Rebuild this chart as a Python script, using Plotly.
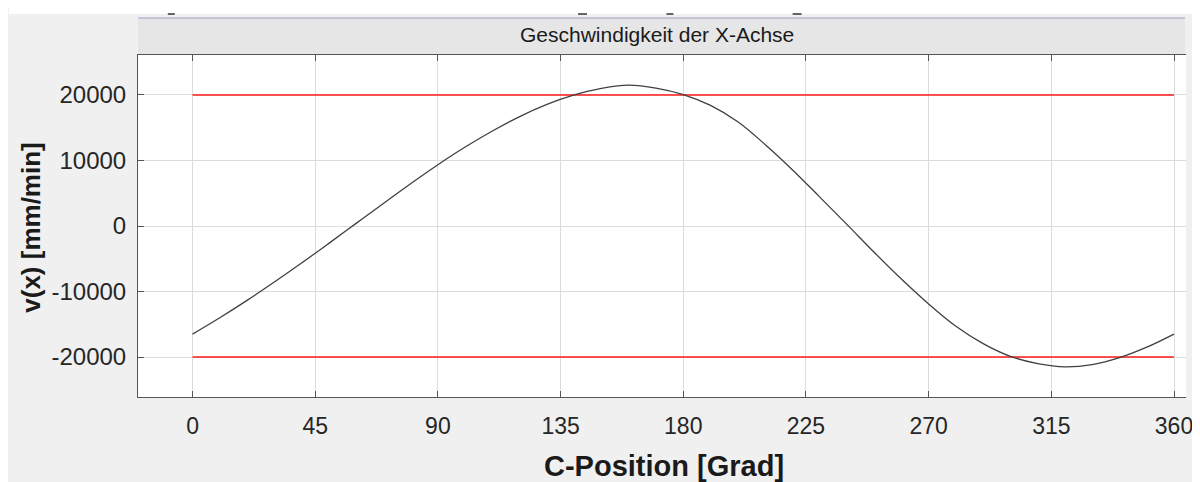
import plotly.graph_objects as go

# ---- data ----
c_position = [0, 10, 20, 30, 40, 50, 60, 70, 80, 90, 100, 110, 120, 130, 140, 150,
              160, 170, 180, 190, 200, 210, 220, 230, 240, 250, 260, 270, 280, 290,
              300, 310, 320, 330, 340, 350, 360]
velocity_x = [-16500, -14000, -11350, -8550, -5650, -2650, 400, 3450, 6450, 9350,
              12050, 14500, 16700, 18550, 20000, 21000, 21500, 21050, 20050, 18400,
              15900, 12450, 8600, 4450, 250, -4000, -8100, -11900, -15300, -17950,
              -19900, -21000, -21500, -21150, -20100, -18500, -16500]
limit_x = [0, 360]
limit_upper = [20000, 20000]
limit_lower = [-20000, -20000]
x_ticks = [0, 45, 90, 135, 180, 225, 270, 315, 360]
y_ticks = [-20000, -10000, 0, 10000, 20000]

title_text = "Geschwindigkeit der X-Achse"
x_title = "C-Position [Grad]"
y_title = "v(x) [mm/min]"

FONT = "Arial, Liberation Sans, Helvetica, sans-serif"

fig = go.Figure()
fig.add_trace(go.Scatter(x=limit_x, y=limit_upper, mode="lines",
                         line=dict(color="#ff1a1a", width=1.6), hoverinfo="skip"))
fig.add_trace(go.Scatter(x=limit_x, y=limit_lower, mode="lines",
                         line=dict(color="#ff1a1a", width=1.6), hoverinfo="skip"))
fig.add_trace(go.Scatter(x=c_position, y=velocity_x, mode="lines",
                         line=dict(color="#404040", width=1.3, shape="spline", smoothing=1.0)))

# page has an 8px body margin: figure starts at page (8, 8)
OFF = 8
W, H = 1200 - OFF, 482 - OFF
# plot area in page pixels
L, R, T, B = 138, 1193, 55, 397


def px(xp):
    return (xp - L) / (R - L)


def py(yp):
    return (B - yp) / (B - T)


shapes = [
    # white strip at the top of the figure (page y 8..14)
    dict(type="rect", xref="paper", yref="paper", x0=px(OFF), x1=px(1200), y0=py(14), y1=py(OFF),
         fillcolor="white", line=dict(width=0), layer="above"),
    # title strip
    dict(type="rect", xref="paper", yref="paper", x0=px(138), x1=px(1192), y0=py(55), y1=py(18),
         fillcolor="#e6e6e6", line=dict(width=0), layer="below"),
    dict(type="line", xref="paper", yref="paper", x0=px(138), x1=px(1192), y0=py(18), y1=py(18),
         line=dict(color="#a89cc4", width=1.2)),
]
# cut-off remnants above the title strip
for a, b in [(168, 175), (581, 590), (670, 677), (797, 806)]:
    shapes.append(dict(type="line", xref="paper", yref="paper", x0=px(a), x1=px(b),
                       y0=py(14), y1=py(14), line=dict(color="#333333", width=1.5)))

annotations = [
    dict(text=title_text, xref="paper", yref="paper", x=px(660), y=py(35),
         xanchor="center", yanchor="middle", showarrow=False,
         font=dict(family=FONT, size=21, color="#1a1a1a")),
    dict(text="<b>" + x_title + "</b>", xref="paper", yref="paper", x=px(668), y=py(466),
         xanchor="center", yanchor="middle", showarrow=False,
         font=dict(family=FONT, size=29, color="#1a1a1a")),
    dict(text="<b>" + y_title + "</b>", xref="paper", yref="paper", x=px(30), y=py(228),
         xanchor="center", yanchor="middle", showarrow=False, textangle=-90,
         font=dict(family=FONT, size=26, color="#1a1a1a")),
]

fig.update_layout(
    width=W, height=H,
    margin=dict(l=L - OFF, r=1200 - R, t=T - OFF, b=482 - B, pad=0),
    paper_bgcolor="#f0f0f0",
    plot_bgcolor="white",
    showlegend=False,
    font=dict(family=FONT, color="#262626"),
    shapes=shapes,
    annotations=annotations,
)
fig.update_xaxes(
    range=[-20, 364.4], tickvals=x_ticks, ticktext=[str(v) for v in x_ticks],
    ticks="inside", ticklen=6, tickcolor="#555555",
    showline=True, linecolor="#555555", linewidth=1, mirror="ticks",
    showgrid=True, gridcolor="#dcdcdc", gridwidth=1, zeroline=False,
    tickfont=dict(family=FONT, size=23, color="#262626"),
    ticklabelstandoff=8, ticklabeloverflow="allow",
)
fig.update_yaxes(
    range=[-26100, 26100], tickvals=y_ticks, ticktext=[str(v) for v in y_ticks],
    ticks="inside", ticklen=6, tickcolor="#555555",
    showline=True, linecolor="#555555", linewidth=1, mirror=False,
    showgrid=True, gridcolor="#dcdcdc", gridwidth=1, zeroline=False,
    tickfont=dict(family=FONT, size=24, color="#262626"),
    ticklabelstandoff=6,
)

fig.write_html("out.html")
